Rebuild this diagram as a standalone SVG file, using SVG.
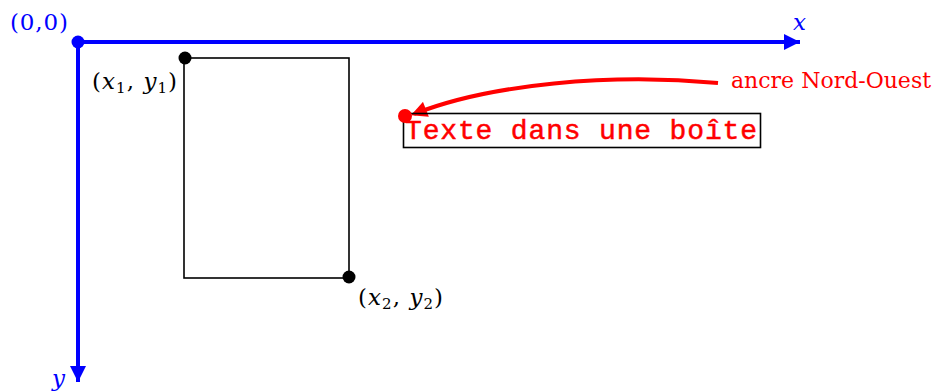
<svg xmlns="http://www.w3.org/2000/svg" width="932" height="391" viewBox="0 0 932 391">
<style>
.lbl{font-family:"DejaVu Serif",serif;font-size:23px}
.blue{fill:#0000ff}
.red{fill:#ff0000}
.it{font-style:italic}
</style>
<defs>
<marker id="ab" viewBox="0 0 10 10" refX="10" refY="5" markerWidth="5" markerHeight="4" markerUnits="strokeWidth" orient="auto">
<path d="M0,0 L10,5 L0,10 Z" fill="#0000ff"/>
</marker>
<marker id="ar" viewBox="0 0 10 10" refX="8" refY="5" markerWidth="4.5" markerHeight="4" markerUnits="strokeWidth" orient="auto">
<path d="M0,0 L10,5 L0,10 Z" fill="#ff0000"/>
</marker>
</defs>
<g id="connectors">
<line x1="78" y1="42" x2="800" y2="42" stroke="#0000ff" stroke-width="4" marker-end="url(#ab)"/>
<line x1="78" y1="42" x2="78" y2="382" stroke="#0000ff" stroke-width="4" marker-end="url(#ab)"/>
<path d="M718,83 C610,73 490,84 414,114" fill="none" stroke="#ff0000" stroke-width="4" marker-end="url(#ar)"/>
</g>
<g id="origin">
<circle cx="78" cy="42" r="6.5" fill="#0000ff"/>
<text x="10" y="30" class="lbl blue" textLength="58">(0,0)</text>
</g>
<g id="axis-x"><text x="793" y="30" class="lbl blue it">x</text></g>
<g id="axis-y"><text x="52" y="386" class="lbl blue it">y</text></g>
<g id="rectangle">
<rect x="184" y="58" width="165" height="220" fill="none" stroke="#000" stroke-width="1.6"/>
<circle cx="185" cy="58" r="6.5" fill="#000"/>
<circle cx="349" cy="277" r="6.5" fill="#000"/>
</g>
<g id="p1"><text x="92" y="89" class="lbl" textLength="85">(<tspan class="it">x</tspan><tspan font-size="15" dy="4">1</tspan><tspan dy="-4">, </tspan><tspan class="it">y</tspan><tspan font-size="15" dy="4">1</tspan><tspan dy="-4">)</tspan></text></g>
<g id="p2"><text x="358" y="305" class="lbl" textLength="85">(<tspan class="it">x</tspan><tspan font-size="15" dy="4">2</tspan><tspan dy="-4">, </tspan><tspan class="it">y</tspan><tspan font-size="15" dy="4">2</tspan><tspan dy="-4">)</tspan></text></g>
<g id="textbox">
<rect x="403.5" y="113.5" width="357" height="34" fill="none" stroke="#000" stroke-width="1.6"/>
<text x="405" y="139" font-family="Liberation Mono, monospace" font-size="28" class="red" stroke="#ff0000" stroke-width="0.5" textLength="352">Texte dans une boîte</text>
<circle cx="405" cy="116" r="7" fill="#ff0000"/>
</g>
<g id="anchor-label"><text x="731" y="88" font-family="DejaVu Serif, serif" font-size="22" class="red">ancre Nord-Ouest</text></g>
</svg>
